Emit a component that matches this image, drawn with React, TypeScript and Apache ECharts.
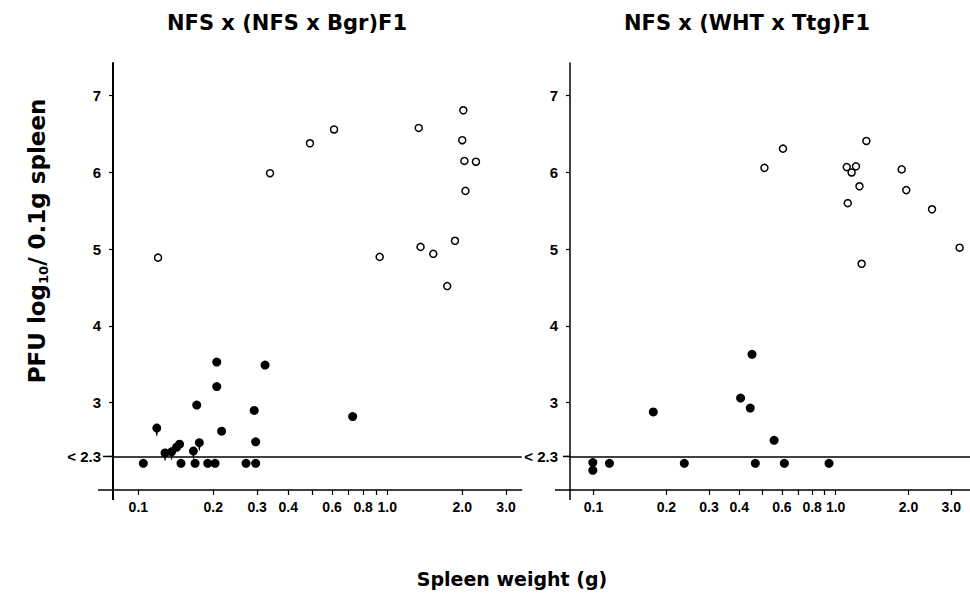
import React, { useEffect, useRef } from "react";
import * as echarts from "echarts";

// ---- texts ----
const leftTitle = "NFS x (NFS x Bgr)F1";
const rightTitle = "NFS x (WHT x Ttg)F1";
const xTitle = "Spleen weight (g)";

// ---- ticks ----
const xTickValues = [0.1, 0.2, 0.3, 0.4, 0.5, 0.6, 0.7, 0.8, 0.9, 1.0, 2.0, 3.0];
const xLabelValues = [0.1, 0.2, 0.3, 0.4, 0.6, 0.8, 1.0, 2.0, 3.0];
const yLabelValues = [2.3, 3, 4, 5, 6, 7];
const detectionLimit = 2.3;

// ---- left panel: NFS x (NFS x Bgr)F1 ----
const leftOpenWeight = [0.120, 0.338, 0.489, 0.611, 1.337, 2.02, 2.00, 2.04, 2.27, 2.06, 1.87, 1.36, 1.53, 0.932, 1.74];
const leftOpenPfu = [4.89, 5.99, 6.38, 6.56, 6.58, 6.81, 6.42, 6.15, 6.14, 5.76, 5.11, 5.03, 4.94, 4.90, 4.52];

const leftFilledWeight = [0.1047, 0.1424, 0.1464, 0.1484, 0.169, 0.1716, 0.19, 0.2033, 0.2065, 0.2065, 0.216, 0.2707, 0.296, 0.292, 0.296, 0.3228, 0.726];
const leftFilledPfu = [2.21, 2.42, 2.46, 2.21, 2.21, 2.97, 2.21, 2.21, 3.53, 3.21, 2.63, 2.21, 2.21, 2.90, 2.49, 3.49, 2.82];

// filled points drawn with a small downward tail
const leftTailWeight = [0.1186, 0.128, 0.136, 0.1664, 0.1758];
const leftTailPfu = [2.67, 2.345, 2.36, 2.37, 2.48];

// ---- right panel: NFS x (WHT x Ttg)F1 ----
const rightOpenWeight = [0.508, 0.606, 1.339, 1.111, 1.213, 1.164, 1.254, 1.122, 1.873, 1.957, 2.50, 3.25, 1.28];
const rightOpenPfu = [6.06, 6.31, 6.41, 6.07, 6.08, 6.00, 5.82, 5.60, 6.04, 5.77, 5.52, 5.02, 4.81];

const rightFilledWeight = [0.0994, 0.0994, 0.1164, 0.1766, 0.2372, 0.4515, 0.405, 0.444, 0.557, 0.466, 0.614, 0.939];
const rightFilledPfu = [2.22, 2.12, 2.21, 2.88, 2.21, 3.63, 3.06, 2.93, 2.51, 2.21, 2.21, 2.21];

// ---- layout ----
const TOP = 63;
const BOT = 490;
const L1 = 113;
const R1 = 521.7;
const L2 = 570;
const R2 = 978;
const YMIN = 1.863;
const YMAX = 7.426;

const pairs = (xs: number[], ys: number[]) => xs.map((x, i) => [x, ys[i]]);

const TAIL_SYMBOL =
  "path://M0,10A10,10,0,1,1,20,10A10,10,0,1,1,0,10ZM7,17L13,17L10.6,28L9.4,28Z";

const LABEL_FONT = "Liberation Sans";
const TITLE_FONT = "DejaVu Sans";

function xAxisFor(gridIndex: number, min: number, max: number) {
  return {
    type: "log",
    logBase: 10,
    gridIndex,
    min,
    max,
    axisLine: { show: true, onZero: false, lineStyle: { color: "#000", width: 1.5 } },
    axisTick: {
      show: true,
      inside: false,
      length: 5,
      customValues: xTickValues,
      lineStyle: { color: "#000", width: 1.2 },
    },
    minorTick: { show: false },
    axisLabel: {
      customValues: xLabelValues,
      formatter: (v: number) => Number(v).toFixed(1),
      margin: 10,
      color: "#000",
      fontSize: 14,
      fontWeight: "bold",
      fontFamily: LABEL_FONT,
    },
    splitLine: { show: false },
  };
}

function yAxisFor(gridIndex: number, width: number) {
  return {
    type: "value",
    gridIndex,
    min: YMIN,
    max: YMAX,
    axisLine: { show: true, onZero: false, lineStyle: { color: "#000", width } },
    axisTick: {
      show: true,
      length: 4,
      customValues: yLabelValues,
      lineStyle: { color: "#000", width: 1.2 },
    },
    axisLabel: {
      customValues: yLabelValues,
      formatter: (v: number) => (Math.abs(v - detectionLimit) < 0.01 ? "< 2.3" : String(Math.round(v))),
      margin: 12,
      color: "#000",
      fontSize: 15,
      fontWeight: "bold",
      fontFamily: LABEL_FONT,
      rich: {},
    },
    splitLine: { show: false },
  };
}

const openStyle = { color: "#fff", borderColor: "#000", borderWidth: 1.5, opacity: 1 };
const filledStyle = { color: "#000", opacity: 1 };

const limitLine = {
  silent: true,
  symbol: "none",
  label: { show: false },
  lineStyle: { color: "#000", width: 1.5, type: "solid", opacity: 1 },
  data: [{ yAxis: detectionLimit }],
};

export default function App() {
  const ref = useRef<HTMLDivElement>(null);

  useEffect(() => {
    if (!ref.current) return;
    const chart = echarts.init(ref.current, undefined, { renderer: "svg" });
    const y23 = TOP + ((YMAX - detectionLimit) / (YMAX - YMIN)) * (BOT - TOP);

    const line = (x1: number, y1: number, x2: number, y2: number, w: number) => ({
      type: "line",
      shape: { x1, y1, x2, y2 },
      style: { stroke: "#000", lineWidth: w },
      silent: true,
    });

    const titleStyle = (text: string, fontSize: number) => ({
      text,
      align: "center",
      verticalAlign: "middle",
      fill: "#000",
      fontSize,
      fontWeight: "bold",
      fontFamily: TITLE_FONT,
    });

    chart.setOption({
      animation: false,
      backgroundColor: "#fff",
      grid: [
        { left: L1, right: 970 - R1, top: TOP, bottom: 599 - BOT },
        { left: L2, right: 970 - R2, top: TOP, bottom: 599 - BOT },
      ],
      xAxis: [xAxisFor(0, 0.0791, 3.466), xAxisFor(1, 0.08, 3.587)],
      yAxis: [yAxisFor(0, 2), yAxisFor(1, 1.5)],
      series: [
        {
          type: "scatter",
          xAxisIndex: 0,
          yAxisIndex: 0,
          symbol: "circle",
          symbolSize: 9,
          itemStyle: filledStyle,
          data: pairs(leftFilledWeight, leftFilledPfu),
          markLine: limitLine,
          clip: false,
        },
        {
          type: "scatter",
          xAxisIndex: 0,
          yAxisIndex: 0,
          symbol: TAIL_SYMBOL,
          symbolSize: [9, 12.6],
          symbolOffset: [0, 1.8],
          itemStyle: filledStyle,
          data: pairs(leftTailWeight, leftTailPfu),
          clip: false,
        },
        {
          type: "scatter",
          xAxisIndex: 0,
          yAxisIndex: 0,
          symbol: "circle",
          symbolSize: 7,
          itemStyle: openStyle,
          data: pairs(leftOpenWeight, leftOpenPfu),
          clip: false,
        },
        {
          type: "scatter",
          xAxisIndex: 1,
          yAxisIndex: 1,
          symbol: "circle",
          symbolSize: 9,
          itemStyle: filledStyle,
          data: pairs(rightFilledWeight, rightFilledPfu),
          markLine: limitLine,
          clip: false,
        },
        {
          type: "scatter",
          xAxisIndex: 1,
          yAxisIndex: 1,
          symbol: "circle",
          symbolSize: 7,
          itemStyle: openStyle,
          data: pairs(rightOpenWeight, rightOpenPfu),
          clip: false,
        },
      ],
      graphic: [
        // axis extensions (the axes cross each other)
        line(L1 - 15, BOT, L1, BOT, 1.5),
        line(L1, BOT, L1, BOT + 10, 2),
        line(L1 - 10, y23, L1, y23, 1.5),
        line(L2 - 15, BOT, L2, BOT, 1.5),
        line(L2, BOT, L2, BOT + 10, 1.5),
        line(L2 - 7, y23, L2, y23, 1.5),
        { type: "text", x: 287, y: 23, style: titleStyle(leftTitle, 21) },
        { type: "text", x: 747, y: 23, style: titleStyle(rightTitle, 21) },
        { type: "text", x: 512, y: 579, style: titleStyle(xTitle, 19) },
        {
          type: "text",
          x: 37,
          y: 241,
          rotation: Math.PI / 2,
          style: {
            text: "{a|PFU log}{s|10}{a|/ 0.1g spleen}",
            align: "center",
            verticalAlign: "middle",
            fill: "#000",
            rich: {
              a: { fontSize: 23, fontWeight: "bold", fontFamily: TITLE_FONT, lineHeight: 26, verticalAlign: "middle" },
              s: { fontSize: 13, fontWeight: "bold", fontFamily: TITLE_FONT, lineHeight: 26, verticalAlign: "bottom", padding: [8, 0, 0, 0] },
            },
          },
        },
      ],
    });

    return () => chart.dispose();
  }, []);

  return (
    <div
      ref={ref}
      style={{ position: "fixed", left: 0, top: 0, width: 970, height: 599, background: "#fff" }}
    />
  );
}
